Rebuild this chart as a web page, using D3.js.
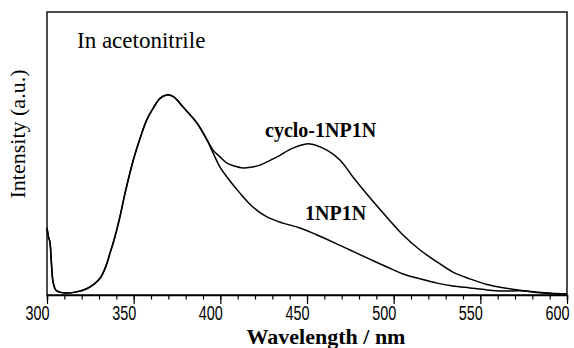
<!DOCTYPE html>
<html><head><meta charset="utf-8">
<script src="https://cdn.jsdelivr.net/npm/d3@7"></script>
<style>html,body{margin:0;padding:0;background:#fff;}svg{display:block;}</style>
</head><body>
<svg id="c" width="574" height="348"></svg>
<script>
// Shared part (scatter spike + main band), wavelength nm
const sharedWl  = [300, 301, 301.7, 302.5, 303.5, 305, 307, 310, 317, 322.9, 327.7, 330.6, 333.5, 336.3, 339.2, 342.1, 345, 349.8, 353.7, 357.5, 361.3, 365.2, 369.1, 372.9, 378.5, 386.5, 392.3];
const sharedInt = [23.7, 20.1, 18.7, 11.7, 4.6, 1.8, 1.1, 0.7, 1.1, 2.2, 4.1, 5.9, 9.4, 14.7, 20.6, 27.7, 35.9, 47.7, 55.4, 61.8, 66.0, 69.5, 70.7, 70.1, 66.4, 60.8, 54.8];
// cyclo-1NP1N tail
const cycloWl  = [395.8, 399.8, 403.8, 408, 413.1, 418, 422.9, 432.7, 441.9, 451.7, 461.5, 469, 476.5, 484.6, 496.2, 505.4, 515.2, 525, 534.2, 544, 553.8, 563.1, 572.9, 582.7, 594, 600];
const cycloInt = [51.2, 48.8, 46.6, 45.6, 44.9, 45.2, 45.9, 48.8, 51.9, 53.4, 51.2, 47.7, 41.7, 35.6, 27.4, 21.2, 15.9, 11.7, 8.1, 5.7, 3.7, 2.6, 1.7, 0.9, 0.35, 0.35];
// 1NP1N tail
const monoWl  = [395.8, 399.8, 403.8, 411.3, 418.8, 426.9, 436.2, 446, 455.8, 465, 474.8, 484.6, 496.2, 505.4, 515.2, 525, 534.2, 544, 553.8, 563.1, 572.9, 582.7, 594, 600];
const monoInt = [50.2, 45.2, 41.7, 36.0, 31.1, 27.6, 25.4, 23.7, 21.2, 18.7, 15.9, 13.1, 9.9, 7.4, 5.7, 4.2, 3.2, 2.5, 1.8, 1.4, 1.5, 1.0, 0.5, 0.35];
const xTicks = [300, 350, 400, 450, 500, 550, 600];

const svg = d3.select("#c");
const L = 47, R = 567, T = 12, B = 295;
const x = d3.scaleLinear().domain([300, 600]).range([L, R]);
const y = d3.scaleLinear().domain([0, 100]).range([B, T]);

// frame
svg.append("rect").attr("x", L).attr("y", T).attr("width", R - L).attr("height", B - T)
  .attr("fill", "none").attr("stroke", "#000").attr("stroke-width", 1.4);

// x axis: minor ticks every 10 nm, major every 50 nm
const minorAx = svg.append("g").attr("transform", `translate(0,${B})`)
  .call(d3.axisBottom(x).tickValues(d3.range(300, 601, 10)).tickSize(4.5).tickFormat(""));
minorAx.select(".domain").attr("stroke-width", 1.4);
minorAx.selectAll(".tick line").attr("stroke-width", 1.2);
const majorAx = svg.append("g").attr("transform", `translate(0,${B})`)
  .call(d3.axisBottom(x).tickValues(xTicks).tickSize(9).tickFormat(""));
majorAx.select(".domain").remove();
majorAx.selectAll(".tick line").attr("stroke-width", 1.2);

svg.append("g").selectAll("text").data(xTicks).join("text")
  .attr("transform", d => `translate(${x(d) - 9.5},320) scale(0.74,1)`)
  .attr("text-anchor", "middle")
  .attr("font-family", "'Liberation Sans',Arial,sans-serif")
  .attr("font-size", 19.5).attr("fill", "#000")
  .text(d => d);

const toPts = (ws, is) => ws.map((w, i) => [w, is[i]]);
const shared = toPts(sharedWl, sharedInt);
const line = d3.line().x(d => x(d[0])).y(d => y(d[1])).curve(d3.curveCatmullRom.alpha(0.5));

[toPts(cycloWl, cycloInt), toPts(monoWl, monoInt)].forEach(tail => {
  svg.append("path").attr("d", line(shared.concat(tail)))
    .attr("fill", "none").attr("stroke", "#000").attr("stroke-width", 1.5)
    .attr("stroke-linejoin", "round");
});

const serif = "'Liberation Serif','Times New Roman',serif";
svg.append("text").attr("x", 77).attr("y", 48).attr("font-family", serif)
  .attr("font-size", 23).text("In acetonitrile");
svg.append("text").attr("x", 265).attr("y", 137).attr("font-family", serif)
  .attr("font-weight", "bold").attr("font-size", 20).text("cyclo-1NP1N");
svg.append("text").attr("x", 305).attr("y", 220).attr("font-family", serif)
  .attr("font-weight", "bold").attr("font-size", 20).text("1NP1N");
svg.append("text").attr("x", 326).attr("y", 344).attr("text-anchor", "middle")
  .attr("font-family", serif).attr("font-weight", "bold").attr("font-size", 22)
  .text("Wavelength / nm");
svg.append("text").attr("transform", "translate(25,134) rotate(-90)")
  .attr("text-anchor", "middle").attr("font-family", serif).attr("font-size", 22)
  .text("Intensity (a.u.)");
</script>
</body></html>
